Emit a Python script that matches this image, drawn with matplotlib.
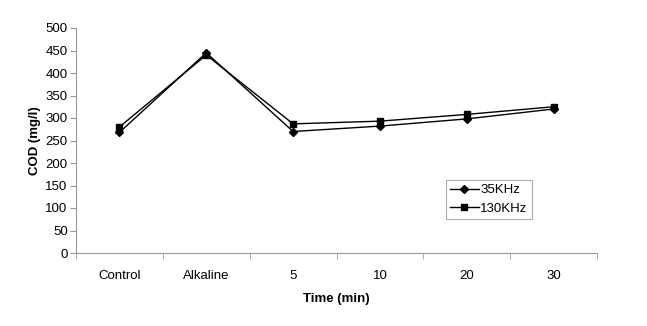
import matplotlib
matplotlib.use("Agg")
import matplotlib.pyplot as plt
import numpy as np

categories = ["Control", "Alkaline", "5", "10", "20", "30"]
cod_35khz = [268, 445, 270, 282, 298, 320]
cod_130khz = [280, 440, 287, 293, 308, 325]
yticks = [0, 50, 100, 150, 200, 250, 300, 350, 400, 450, 500]

plt.rcParams['font.family'] = ['Liberation Sans', 'DejaVu Sans']

fig = plt.figure(figsize=(6.47, 3.26), dpi=100)
ax = fig.add_axes([76/647, 1-253/326, (597-76)/647, (253-28)/326])

x = np.arange(len(categories))
ax.plot(x, cod_35khz, color='black', marker='D', markersize=4.5, linewidth=1, label='35KHz')
ax.plot(x, cod_130khz, color='black', marker='s', markersize=5, linewidth=1, label='130KHz')

ax.set_xlim(-0.5, len(categories) - 0.5)
ax.set_ylim(0, 500)
ax.set_yticks(yticks)
ax.set_xticks(x)
ax.set_xticklabels(categories)
ax.set_xticks(np.arange(-0.5, len(categories)), minor=True)
ax.tick_params(axis='x', which='major', length=0, pad=12, labelsize=9.5)
ax.tick_params(axis='x', which='minor', length=4, color='#999999', direction='out')
ax.tick_params(axis='y', length=4, color='#999999', direction='out', labelsize=9.5, pad=2)

for s in ['top', 'right']:
    ax.spines[s].set_visible(False)
for s in ['left', 'bottom']:
    ax.spines[s].set_color('#999999')
    ax.spines[s].set_linewidth(0.8)

ax.set_xlabel('Time (min)', fontsize=9.5, fontweight='bold', labelpad=8)
ax.set_ylabel('COD (mg/l)', fontsize=9.5, fontweight='bold', labelpad=3)

leg = ax.legend(loc='upper left', bbox_to_anchor=((446-76)/521, (253-180)/225),
                fontsize=9.5, frameon=True, fancybox=False, edgecolor='#999999',
                handlelength=2.2, borderpad=0.3, labelspacing=0.5, handletextpad=0.1,
                markerscale=0.8, borderaxespad=0)
leg.get_frame().set_linewidth(0.8)

fig.savefig('out.png', dpi=100)
